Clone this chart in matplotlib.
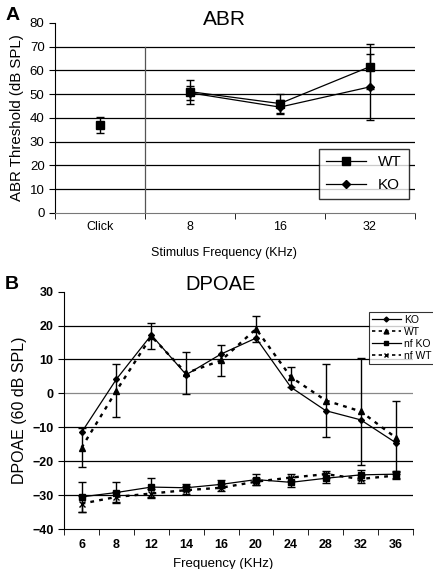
import matplotlib
matplotlib.use("Agg")
import matplotlib.pyplot as plt
from matplotlib.lines import Line2D
import numpy as np

plt.rcParams['font.family'] = ['Liberation Sans', 'DejaVu Sans']

# Panel A - ABR thresholds
abr_cats = ['Click', '8', '16', '32']
abr_wt = [37, 51, 46, 61.5]
abr_wt_err = [3.5, 5, 4, 9.5]
abr_ko = [None, 50.5, 44.5, 53]
abr_ko_err = [None, 3, 3, 14]

# Panel B - DPOAE
dp_freqs = ['6', '8', '12', '14', '16', '20', '24', '28', '32', '36']
dp_ko = [-11.5, 4.2, 17.2, 5.5, 11.6, 16.3, 1.8, -5.1, -7.8, -14.5]
dp_wt = [-16, 0.8, 16.8, 6.0, 9.7, 19.0, 4.8, -2.1, -5.3, -13.0]
dp_wt_err = [5.7, 7.9, 3.8, 6.3, 4.6, 3.8, 3.0, 10.8, 15.8, 10.7]
nf_ko = [-30.5, -29.2, -27.6, -27.8, -26.8, -25.4, -26.2, -25.0, -24.0, -23.8]
nf_ko_err = [4.5, 3.0, 2.8, 1.0, 1.2, 1.6, 1.5, 1.5, 1.5, 1.0]
nf_wt = [-32.5, -30.5, -29.5, -28.5, -27.8, -26.0, -24.8, -23.8, -25.2, -24.2]
nf_wt_err = [2.3, 1.5, 1.3, 1.2, 1.0, 1.0, 1.0, 1.0, 1.2, 1.0]

fig = plt.figure(figsize=(4.33, 5.69), dpi=100)

# ---------- A ----------
ax = fig.add_axes([0.127, 0.626, 0.831, 0.334])
x = np.arange(len(abr_cats))
ek = dict(ecolor='black', elinewidth=1, capsize=3, capthick=1)
ax.errorbar(x[1:], abr_wt[1:], yerr=abr_wt_err[1:], color='black', marker='s',
            ms=6, lw=0.9, **ek)
ax.errorbar(x[1:], abr_ko[1:], yerr=abr_ko_err[1:], color='black', marker='D',
            ms=4.5, lw=0.9, **ek)
ax.errorbar(x[:1], abr_wt[:1], yerr=abr_wt_err[:1], color='black', marker='s',
            ms=6, lw=0, **ek)
for yv in range(10, 80, 10):
    ax.axhline(yv, color='black', lw=0.9, zorder=0)
ax.axvline(0.5, ymin=0, ymax=70 / 80, color='#555555', lw=0.9)
ax.set_xlim(-0.5, 3.5)
ax.set_ylim(0, 80)
ax.set_yticks(range(0, 90, 10))
ax.set_xticks(x)
ax.set_xticklabels(abr_cats)
ax.set_xticks(np.arange(-0.5, 4, 1), minor=True)
ax.tick_params(axis='x', which='major', length=0, labelsize=9, pad=6)
ax.tick_params(axis='x', which='minor', length=4, direction='out')
ax.tick_params(axis='y', labelsize=9.5, length=4)
for s in ['top', 'right']:
    ax.spines[s].set_visible(False)
ax.spines['bottom'].set_color('#777777')
ax.set_ylabel('ABR Threshold (dB SPL)', fontsize=10.8)
ax.set_xlabel('Stimulus Frequency (KHz)', fontsize=9, labelpad=8)
ax.xaxis.set_label_coords(0.469, -0.18)
h_a = [Line2D([], [], color='black', lw=0.9, marker='s', ms=6),
       Line2D([], [], color='black', lw=0.9, marker='D', ms=4.5)]
leg = ax.legend(h_a, ['WT', 'KO'], loc='lower right',
                bbox_to_anchor=(0.983, 0.074), borderaxespad=0, fontsize=11,
                frameon=True, fancybox=False, edgecolor='black',
                handlelength=2.6, borderpad=0.45, labelspacing=0.55)
leg.get_frame().set_linewidth(1)
fig.text(224 / 433, 1 - 25 / 569, 'ABR', fontsize=15, ha='center', va='baseline')
fig.text(0.012, 0.965, 'A', fontsize=14, fontweight='bold')

# ---------- B ----------
bx = fig.add_axes([0.148, 0.070, 0.806, 0.4176])
xb = np.arange(len(dp_freqs))
ek2 = dict(ecolor='black', elinewidth=1, capsize=3, capthick=1)
dash = (0, (1.6, 2.2))
bx.errorbar(xb, dp_ko, color='black', marker='D', ms=3, lw=0.9)
bx.errorbar(xb, dp_wt, yerr=dp_wt_err, color='black', marker='^', ms=4.5,
            lw=1.7, ls=dash, **ek2)
bx.errorbar(xb, nf_ko, yerr=nf_ko_err, color='black', marker='s', ms=4.5,
            lw=0.9, **ek2)
bx.errorbar(xb, nf_wt, yerr=nf_wt_err, color='black', marker='x', ms=4,
            lw=1.7, ls=dash, **ek2)
for yv in range(-30, 30, 10):
    bx.axhline(yv, color='#888888' if yv == 0 else 'black', lw=0.9, zorder=0)
bx.set_xlim(-0.5, len(dp_freqs) - 0.5)
bx.set_ylim(-40, 30)
bx.set_yticks(range(-40, 40, 10))
bx.set_xticks(xb)
bx.set_xticklabels(dp_freqs)
bx.set_xticks(np.arange(-0.5, len(dp_freqs), 1), minor=True)
bx.tick_params(axis='x', which='major', length=0, labelsize=9, pad=7)
bx.tick_params(axis='x', which='minor', length=4, direction='out')
bx.tick_params(axis='y', labelsize=9, length=4)
for lab in bx.get_xticklabels() + bx.get_yticklabels():
    lab.set_fontweight('bold')
for s in ['top', 'right']:
    bx.spines[s].set_visible(False)
bx.set_ylabel('DPOAE (60 dB SPL)', fontsize=11.5)
bx.set_xlabel('Frequency (KHz)', fontsize=9.5, labelpad=2)
bx.xaxis.set_label_coords(0.456, -0.12)
h_b = [Line2D([], [], color='black', lw=0.9, marker='D', ms=2.5),
       Line2D([], [], color='black', lw=1.2, ls=(0, (2, 2)), marker='^', ms=3.5),
       Line2D([], [], color='black', lw=0.9, marker='s', ms=3.5),
       Line2D([], [], color='black', lw=1.2, ls=(0, (2, 2)), marker='x', ms=3.5)]
leg2 = bx.legend(h_b, ['KO', 'WT', 'nf KO', 'nf WT'], loc='upper left',
                 bbox_to_anchor=(0.873, 0.915), fontsize=7.5,
                 frameon=True, fancybox=False, edgecolor='black',
                 handlelength=2.8, borderpad=0.3, labelspacing=0.2,
                 handletextpad=0.3, borderaxespad=0)
leg2.get_frame().set_linewidth(0.8)
fig.text(221 / 433, 1 - 290 / 569, 'DPOAE', fontsize=14.5, ha='center', va='baseline')
fig.text(0.012, 0.492, 'B', fontsize=14, fontweight='bold')

fig.savefig('out.png', dpi=100)
